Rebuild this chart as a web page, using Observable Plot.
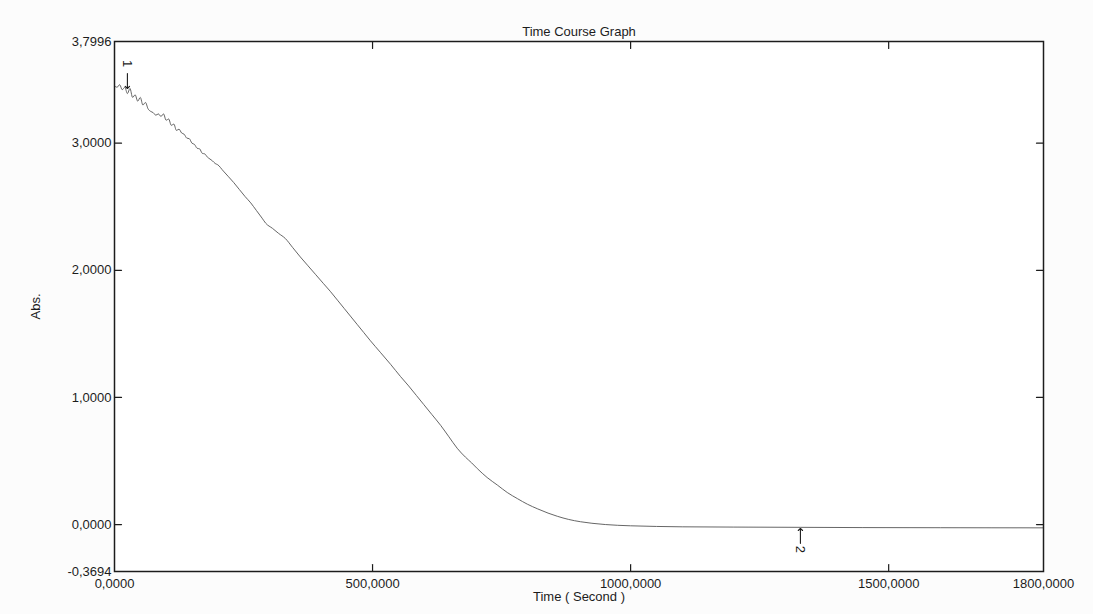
<!DOCTYPE html>
<html>
<head>
<meta charset="utf-8">
<script src="https://cdn.jsdelivr.net/npm/d3@7"></script>
<script src="https://cdn.jsdelivr.net/npm/@observablehq/plot@0.6"></script>
<style>
  html, body { margin: 0; padding: 0; background: #fcfcfc; }
</style>
</head>
<body>
<div id="chart"></div>
<script>
// Absorbance time course (seconds vs Abs.)
const timeSec = [
  0, 5, 10, 15, 20, 25, 30, 35, 40, 45, 50, 55, 60, 65, 70, 75, 80, 85, 90, 95,
  100, 105, 110, 115, 120, 125, 130, 135, 140, 145, 150, 155, 160, 165, 170, 175,
  180, 185, 190, 195, 200,
  211, 220, 231, 242, 253, 264, 275, 286, 293, 306, 318, 331, 345, 360, 375, 390,
  405, 418, 432, 445, 457, 470, 483, 496, 515, 535, 554, 570, 585, 599, 615, 632,
  648, 664, 680, 692, 703, 722, 742, 761, 781, 800, 820, 840, 858, 880, 903, 925,
  951, 975, 1000, 1050, 1100, 1200, 1329, 1450, 1600, 1800
];
const absorbance = [
  3.45, 3.44, 3.46, 3.42, 3.44, 3.39, 3.43, 3.36, 3.38, 3.33, 3.36, 3.30, 3.32, 3.27,
  3.25, 3.24, 3.22, 3.23, 3.21, 3.23, 3.18, 3.19, 3.14, 3.15, 3.10, 3.11, 3.08, 3.07,
  3.04, 3.035, 3.00, 2.99, 2.96, 2.955, 2.92, 2.915, 2.89, 2.875, 2.86, 2.84, 2.83,
  2.78, 2.74, 2.69, 2.635, 2.58, 2.53, 2.47, 2.41, 2.37, 2.33, 2.29, 2.25, 2.18,
  2.105, 2.035, 1.965, 1.895, 1.835, 1.765, 1.70, 1.64, 1.575, 1.51, 1.445, 1.355,
  1.26, 1.165, 1.09, 1.015, 0.945, 0.865, 0.78, 0.69, 0.60, 0.53, 0.485, 0.44,
  0.37, 0.31, 0.252, 0.203, 0.16, 0.123, 0.09, 0.065, 0.04, 0.022, 0.01, 0.0,
  -0.006, -0.01, -0.015, -0.018, -0.02, -0.022, -0.024, -0.025, -0.026
];

// Axis ticks
const xTickValues = [0, 500, 1000, 1500, 1800];
const yTickValues = [-0.3694, 0, 1, 2, 3, 3.7996];
const xInnerTicks = [500, 1000, 1500];
const yInnerTicks = [0, 1, 2, 3];

// Event markers on the trace
const markerTimes = [25, 1329];
const markerAbs = [3.43, -0.03];
const markerLabels = ["1", "2"];
const markerRotate = [180, 0];      // 180: arrow pointing down, 0: pointing up
const markerLabelShift = [-25, 21]; // label sits beyond the arrow tail

const series = timeSec.map((t, i) => ({t, v: absorbance[i]}));
const markers = markerTimes.map((t, i) => ({
  t, v: markerAbs[i], label: markerLabels[i], rotate: markerRotate[i], shift: markerLabelShift[i]
}));

const locale = d3.formatLocale({decimal: ",", thousands: "", grouping: [3], currency: ["", ""], minus: "-"});
const fmt = locale.format(".4f");

// straight inward tick segment
const tickShape = {draw(context, l) { context.moveTo(0, 0); context.lineTo(0, -l); }};
const ink = "#1c1c1c";

const chart = Plot.plot({
  width: 1093,
  height: 614,
  marginLeft: 114,
  marginRight: 50,
  marginTop: 41,
  marginBottom: 43,
  style: {fontFamily: "'Liberation Sans', Arial, sans-serif", fontSize: "13px", color: ink, background: "transparent"},
  x: {domain: [0, 1800]},
  y: {domain: [-0.3694, 3.7996]},
  marks: [
    Plot.frame({fill: "#ffffff"}),
    Plot.axisX({ticks: xTickValues, tickFormat: fmt, tickSize: 0, tickPadding: 7,
      label: "Time ( Second )", labelAnchor: "center", labelOffset: 29, labelArrow: "none", fill: ink}),
    Plot.axisY({ticks: yTickValues, tickFormat: fmt, tickSize: 0, tickPadding: 3,
      label: "Abs.", labelAnchor: "center", labelOffset: 84, labelArrow: "none", fill: ink}),
    // inward ticks on all four sides
    Plot.vectorX(xInnerTicks, {frameAnchor: "bottom", rotate: 0, length: 7, anchor: "start", shape: tickShape, stroke: ink, strokeWidth: 1.2}),
    Plot.vectorX(xInnerTicks, {frameAnchor: "top", rotate: 180, length: 7, anchor: "start", shape: tickShape, stroke: ink, strokeWidth: 1.2}),
    Plot.vectorY(yInnerTicks, {frameAnchor: "left", rotate: 90, length: 7, anchor: "start", shape: tickShape, stroke: ink, strokeWidth: 1.2}),
    Plot.vectorY(yInnerTicks, {frameAnchor: "right", rotate: -90, length: 7, anchor: "start", shape: tickShape, stroke: ink, strokeWidth: 1.2}),
    // absorbance trace
    Plot.line(series, {x: "t", y: "v", curve: "monotone-x", stroke: "#555555", strokeWidth: 0.9}),
    // event markers
    Plot.vector(markers, {x: "t", y: "v", rotate: "rotate", length: 15, anchor: "end", r: 2.5, stroke: ink, strokeWidth: 1.1}),
    ...markers.map((m) => Plot.text([m], {x: "t", y: "v", text: "label", rotate: 90, dy: m.shift, fill: ink, fontSize: 13})),
    Plot.frame({stroke: ink, strokeWidth: 1.5}),
    Plot.text(["Time Course Graph"], {frameAnchor: "top", dy: -15, fill: ink, fontSize: 13})
  ]
});

document.getElementById("chart").appendChild(chart);
</script>
</body>
</html>
